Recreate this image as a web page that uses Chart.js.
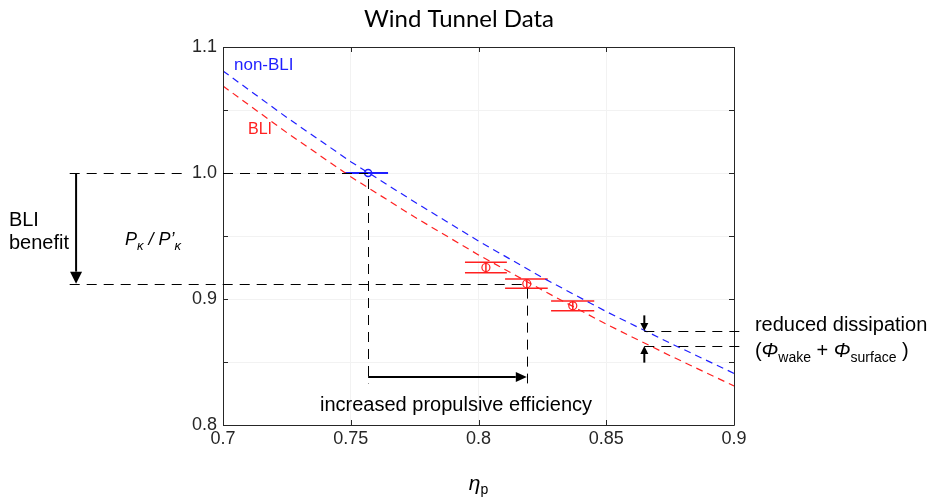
<!DOCTYPE html>
<html>
<head>
<meta charset="utf-8">
<title>Wind Tunnel Data</title>
<script src="https://cdn.jsdelivr.net/npm/chart.js@4.4.1/dist/chart.umd.min.js"></script>
<style>
  body { margin: 0; background: #fff; }
  #wrap { width: 935px; height: 498px; position: relative; }
</style>
</head>
<body>
<div id="wrap"><canvas id="chart"></canvas></div>
<script>
// trend curves at these propulsive efficiencies
var etaGrid = [0.700, 0.725, 0.750, 0.775, 0.800, 0.825, 0.850, 0.875, 0.900];
var nonBLICurve = [1.081, 1.044, 1.009, 0.977, 0.946, 0.917, 0.890, 0.865, 0.841];
var bliCurve = [1.069, 1.032, 0.997, 0.965, 0.935, 0.907, 0.880, 0.855, 0.831];

// measured points with their error ranges
var nonBLIEta = [0.7568];
var nonBLIP = [1.000];
var nonBLIEtaLo = [0.7474];
var nonBLIEtaHi = [0.7646];
var nonBLIPLo = [1.000];
var nonBLIPHi = [1.000];

var bliEta = [0.8029, 0.8189, 0.8369];
var bliP = [0.9250, 0.9122, 0.8946];
var bliEtaLo = [0.7947, 0.8104, 0.8284];
var bliEtaHi = [0.8111, 0.8271, 0.8453];
var bliPLo = [0.9209, 0.9085, 0.8907];
var bliPHi = [0.9291, 0.9159, 0.8984];

var xTicks = [0.7, 0.75, 0.8, 0.85, 0.9];
var xTickLabels = ["0.7", "0.75", "0.8", "0.85", "0.9"];
var yTicks = [0.8, 0.85, 0.9, 0.95, 1.0, 1.05, 1.1];
var yTickLabels = ["0.8", "", "0.9", "", "1.0", "", "1.1"];

var BLUE = "#1f1fff";
var RED = "#ff2020";
var AXIS = "#262626";
var SANS = "'Liberation Sans', Arial, sans-serif";

function pairs(xs, ys) {
  return xs.map(function (x, i) { return { x: x, y: ys[i] }; });
}

// draws a run of text pieces (for sub-scripts), left aligned, middle baseline
function richText(ctx, pieces, x, y) {
  ctx.save();
  ctx.textBaseline = "middle";
  ctx.textAlign = "left";
  pieces.forEach(function (p) {
    ctx.font = p.font;
    ctx.fillText(p.t, x, y + (p.dy || 0));
    x += ctx.measureText(p.t).width;
  });
  ctx.restore();
}
function richWidth(ctx, pieces) {
  var w = 0;
  ctx.save();
  pieces.forEach(function (p) { ctx.font = p.font; w += ctx.measureText(p.t).width; });
  ctx.restore();
  return w;
}

function crisp(v) { return Math.round(v) + 0.5; }

function dashed(ctx, x1, y1, x2, y2) {
  ctx.save();
  ctx.strokeStyle = "#000";
  ctx.lineWidth = 1;
  ctx.setLineDash([10, 7]);
  ctx.beginPath();
  if (Math.abs(y1 - y2) < 0.01) {
    ctx.moveTo(x1, crisp(y1));
    ctx.lineTo(x2, crisp(y1));
  } else {
    ctx.moveTo(crisp(x1), y1);
    ctx.lineTo(crisp(x1), y2);
  }
  ctx.stroke();
  ctx.restore();
}

function arrow(ctx, x1, y1, x2, y2, head, half) {
  var a = Math.atan2(y2 - y1, x2 - x1);
  ctx.save();
  ctx.strokeStyle = "#000";
  ctx.fillStyle = "#000";
  ctx.lineWidth = 2;
  ctx.beginPath();
  ctx.moveTo(x1, y1);
  ctx.lineTo(x2 - head * Math.cos(a), y2 - head * Math.sin(a));
  ctx.stroke();
  ctx.beginPath();
  ctx.moveTo(x2, y2);
  ctx.lineTo(x2 - head * Math.cos(a) - half * Math.sin(a), y2 - head * Math.sin(a) + half * Math.cos(a));
  ctx.lineTo(x2 - head * Math.cos(a) + half * Math.sin(a), y2 - head * Math.sin(a) - half * Math.cos(a));
  ctx.closePath();
  ctx.fill();
  ctx.restore();
}

function errorBoxes(chart, ctx, color, width, eta, lo, hi, pLo, pHi) {
  var xs = chart.scales.x, ys = chart.scales.y;
  ctx.save();
  ctx.strokeStyle = color;
  ctx.lineWidth = width;
  for (var i = 0; i < eta.length; i++) {
    var xa = xs.getPixelForValue(lo[i]), xb = xs.getPixelForValue(hi[i]);
    var yl = ys.getPixelForValue(pLo[i]), yh = ys.getPixelForValue(pHi[i]);
    var xc = xs.getPixelForValue(eta[i]);
    ctx.beginPath();
    ctx.moveTo(xa, yl); ctx.lineTo(xb, yl);
    ctx.moveTo(xa, yh); ctx.lineTo(xb, yh);
    ctx.moveTo(xc, yl); ctx.lineTo(xc, yh);
    ctx.stroke();
  }
  ctx.restore();
}

var annotate = {
  id: "annotate",
  beforeDatasetsDraw: function (chart) {
    var ctx = chart.ctx;
    errorBoxes(chart, ctx, BLUE, 2, nonBLIEta, nonBLIEtaLo, nonBLIEtaHi, nonBLIPLo, nonBLIPHi);
    errorBoxes(chart, ctx, RED, 1.5, bliEta, bliEtaLo, bliEtaHi, bliPLo, bliPHi);
  },
  afterDraw: function (chart) {
    var ctx = chart.ctx, xs = chart.scales.x, ys = chart.scales.y, a = chart.chartArea;
    function px(v) { return xs.getPixelForValue(v); }
    function py(v) { return ys.getPixelForValue(v); }

    // axes box with inward ticks
    ctx.save();
    ctx.strokeStyle = AXIS;
    ctx.lineWidth = 1;
    ctx.beginPath();
    ctx.rect(a.left + 0.5, a.top + 0.5, a.right - a.left, a.bottom - a.top);
    xs.ticks.forEach(function (t) {
      var x = Math.round(px(t.value)) + 0.5;
      ctx.moveTo(x, a.bottom); ctx.lineTo(x, a.bottom - 5);
      ctx.moveTo(x, a.top); ctx.lineTo(x, a.top + 5);
    });
    ys.ticks.forEach(function (t) {
      var y = Math.round(py(t.value)) + 0.5;
      ctx.moveTo(a.left, y); ctx.lineTo(a.left + 5, y);
      ctx.moveTo(a.right, y); ctx.lineTo(a.right - 5, y);
    });
    ctx.stroke();
    ctx.restore();

    // reference levels and the efficiency arrow
    var pNon = nonBLIP[0], pBli = bliP[1], eNon = nonBLIEta[0], eBli = bliEta[1];
    dashed(ctx, px(0.640), py(pNon), px(0.6855), py(pNon));
    dashed(ctx, a.left, py(pNon), px(eNon), py(pNon));
    dashed(ctx, px(0.640), py(pBli), px(eBli), py(pBli));
    dashed(ctx, px(eNon), py(pNon) + 6, px(eNon), py(0.833));
    dashed(ctx, px(eBli), py(pBli) + 5, px(eBli), py(0.833));
    arrow(ctx, px(eNon), py(0.8381), px(eBli), py(0.8381), 11, 5);
    arrow(ctx, px(0.6425), py(pNon), px(0.6425), py(pBli), 12, 6);

    // dissipation gap between the two curves
    dashed(ctx, px(0.8649), py(0.8746), px(0.9043), py(0.8746));
    dashed(ctx, px(0.8649), py(0.8627), px(0.9043), py(0.8627));
    arrow(ctx, px(0.8649), py(0.8870), px(0.8649), py(0.8746), 8, 4);
    arrow(ctx, px(0.8649), py(0.8495), px(0.8649), py(0.8627), 8, 4);

    // texts
    var big = "20px " + SANS, it = "italic 20px " + SANS, sub = "14px " + SANS;
    ctx.save();
    ctx.fillStyle = "#000";
    ctx.textBaseline = "middle";
    ctx.textAlign = "center";
    ctx.font = "24px Lato, 'DejaVu Sans', sans-serif";
    ctx.fillText("Wind Tunnel Data", 459, 19);
    ctx.font = big;
    ctx.fillText("increased propulsive efficiency", px(0.7912), py(0.8155));
    ctx.textAlign = "left";
    ctx.fillText("BLI", px(0.6162), py(0.9627));
    ctx.fillText("benefit", px(0.6162), py(0.9437));
    ctx.fillText("reduced dissipation", px(0.9082), py(0.8786));
    ctx.font = "17px " + SANS;
    ctx.fillStyle = BLUE;
    ctx.fillText("non-BLI", px(0.7043), py(1.0851));
    ctx.fillStyle = RED;
    ctx.font = "16px " + SANS;
    ctx.fillText("BLI", px(0.7098), py(1.0341));
    ctx.restore();

    ctx.save();
    ctx.fillStyle = "#000";
    richText(ctx, [
      { t: "(", font: big },
      { t: "\u03A6", font: it },
      { t: "wake", font: sub, dy: 6 },
      { t: " + ", font: big },
      { t: "\u03A6", font: it },
      { t: "surface", font: sub, dy: 6 },
      { t: " )", font: big }
    ], px(0.9082), py(0.8580));

    var pit = "italic 18px " + SANS, psub = "italic 13px " + SANS;
    richText(ctx, [
      { t: "P", font: pit },
      { t: "\u03BA", font: psub, dy: 6 },
      { t: " / P\u2019", font: pit },
      { t: "\u03BA", font: psub, dy: 6 }
    ], px(0.6616), py(0.9468));

    var eta = [
      { t: "\u03B7", font: "italic 21px " + SANS },
      { t: "p", font: "14px " + SANS, dy: 6 }
    ];
    richText(ctx, eta, (a.left + a.right) / 2 - richWidth(ctx, eta) / 2, 484);
    ctx.restore();
  }
};

new Chart(document.getElementById("chart"), {
  type: "scatter",
  data: {
    datasets: [
      {
        label: "non-BLI",
        data: pairs(etaGrid, nonBLICurve),
        showLine: true,
        borderColor: BLUE,
        borderWidth: 1.2,
        borderDash: [7, 5],
        pointRadius: 0
      },
      {
        label: "BLI",
        data: pairs(etaGrid, bliCurve),
        showLine: true,
        borderColor: RED,
        borderWidth: 1.2,
        borderDash: [7, 5],
        pointRadius: 0
      },
      {
        label: "non-BLI measured",
        data: pairs(nonBLIEta, nonBLIP),
        borderColor: BLUE,
        backgroundColor: "rgba(0,0,0,0)",
        borderWidth: 1.5,
        pointRadius: 3.5
      },
      {
        label: "BLI measured",
        data: pairs(bliEta, bliP),
        borderColor: RED,
        backgroundColor: "rgba(0,0,0,0)",
        borderWidth: 1.2,
        pointRadius: 4
      }
    ]
  },
  options: {
    responsive: true,
    maintainAspectRatio: false,
    animation: false,
    events: [],
    layout: { padding: { top: 47, right: 201, bottom: 0, left: 0 } },
    plugins: { legend: { display: false }, tooltip: { enabled: false }, title: { display: false } },
    scales: {
      x: {
        type: "linear",
        min: 0.7,
        max: 0.9,
        afterBuildTicks: function (s) { s.ticks = xTicks.map(function (v) { return { value: v }; }); },
        afterFit: function (s) { s.height = 73; },
        ticks: {
          padding: 3,
          color: AXIS,
          font: { family: SANS, size: 18 },
          maxRotation: 0,
          callback: function (v, i) { return xTickLabels[i]; }
        },
        grid: { color: "#f2f2f2", drawTicks: false },
        border: { display: false }
      },
      y: {
        min: 0.8,
        max: 1.1,
        afterBuildTicks: function (s) { s.ticks = yTicks.map(function (v) { return { value: v }; }); },
        afterFit: function (s) { s.width = 223; },
        ticks: {
          padding: 6,
          color: AXIS,
          font: { family: SANS, size: 18 },
          callback: function (v, i) { return yTickLabels[i]; }
        },
        grid: { color: "#f2f2f2", drawTicks: false },
        border: { display: false }
      }
    }
  },
  plugins: [annotate]
});
</script>
</body>
</html>
